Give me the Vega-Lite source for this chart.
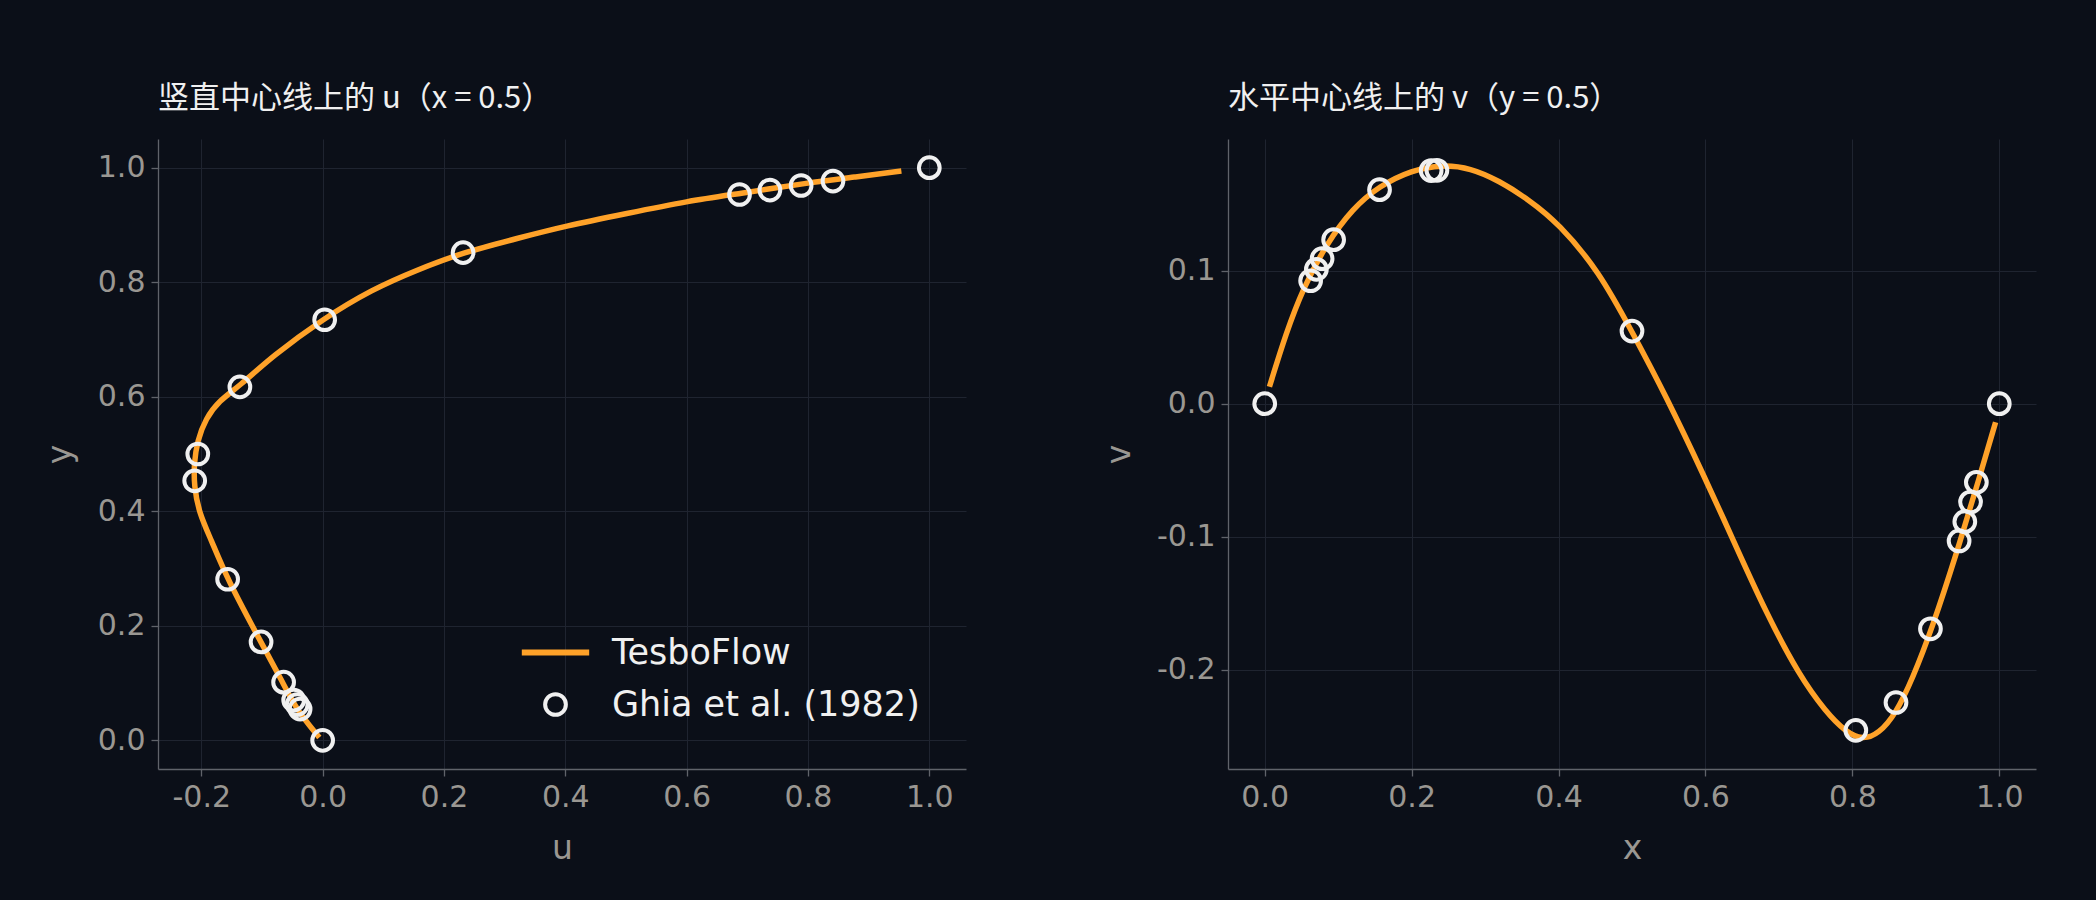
{
  "$schema": "https://vega.github.io/schema/vega-lite/v6.json",
  "background": "#0b0f18",
  "padding": {"left": 44, "top": 83, "right": 60, "bottom": 40},
  "bounds": "flush",
  "spacing": 262,
  "config": {
    "view": {"stroke": null},
    "font": "DejaVu Sans",
    "axis": {
      "domainColor": "#60636a",
      "domainWidth": 1.3,
      "tickColor": "#60636a",
      "tickSize": 7,
      "tickWidth": 1.3,
      "gridColor": "#1f2430",
      "gridWidth": 1,
      "labelFont": "DejaVu Sans",
      "labelFontSize": 30,
      "labelColor": "#9a9792",
      "labelPadding": 6,
      "labelExpr": "replace(datum.label, '−', '-')",
      "titleFont": "DejaVu Sans",
      "titleFontSize": 33,
      "titleFontWeight": "normal",
      "titleColor": "#9a9792",
      "titlePadding": 20
    },
    "title": {
      "font": "Noto Sans CJK SC",
      "fontSize": 31,
      "fontWeight": "normal",
      "color": "#f0f0f0",
      "anchor": "start",
      "frame": "group",
      "offset": 24
    },
    "legend": {
      "labelFont": "DejaVu Sans",
      "labelFontSize": 35,
      "labelColor": "#f0f0f0",
      "labelLimit": 0,
      "symbolSize": 430,
      "labelOffset": 39,
      "rowPadding": 15,
      "padding": 0,
      "orient": "bottom-right",
      "offset": 46
    }
  },
  "datasets": {
    "lineU": [
      {"u": -0.0055, "y": 0.005},
      {"u": -0.044, "y": 0.055},
      {"u": -0.066, "y": 0.102},
      {"u": -0.102, "y": 0.172},
      {"u": -0.157, "y": 0.281},
      {"u": -0.1845, "y": 0.352},
      {"u": -0.204, "y": 0.398},
      {"u": -0.212, "y": 0.445},
      {"u": -0.212, "y": 0.484},
      {"u": -0.2066, "y": 0.523},
      {"u": -0.1927, "y": 0.562},
      {"u": -0.1707, "y": 0.593},
      {"u": -0.1377, "y": 0.618},
      {"u": -0.0826, "y": 0.671},
      {"u": 0.0, "y": 0.7357},
      {"u": 0.0826, "y": 0.788},
      {"u": 0.154, "y": 0.8207},
      {"u": 0.2314, "y": 0.852},
      {"u": 0.325, "y": 0.8776},
      {"u": 0.4, "y": 0.898},
      {"u": 0.5015, "y": 0.92},
      {"u": 0.602, "y": 0.9416},
      {"u": 0.689, "y": 0.955},
      {"u": 0.8, "y": 0.9736},
      {"u": 0.876, "y": 0.9834},
      {"u": 0.954, "y": 0.994}
    ],
    "ghiaU": [
      {"y": 1.0, "u": 1.0, "series": "Ghia et al. (1982)"},
      {"y": 0.9766, "u": 0.84123, "series": "Ghia et al. (1982)"},
      {"y": 0.9688, "u": 0.78871, "series": "Ghia et al. (1982)"},
      {"y": 0.9609, "u": 0.73722, "series": "Ghia et al. (1982)"},
      {"y": 0.9531, "u": 0.68717, "series": "Ghia et al. (1982)"},
      {"y": 0.8516, "u": 0.23151, "series": "Ghia et al. (1982)"},
      {"y": 0.7344, "u": 0.00332, "series": "Ghia et al. (1982)"},
      {"y": 0.6172, "u": -0.13641, "series": "Ghia et al. (1982)"},
      {"y": 0.5, "u": -0.20581, "series": "Ghia et al. (1982)"},
      {"y": 0.4531, "u": -0.2109, "series": "Ghia et al. (1982)"},
      {"y": 0.2813, "u": -0.15662, "series": "Ghia et al. (1982)"},
      {"y": 0.1719, "u": -0.1015, "series": "Ghia et al. (1982)"},
      {"y": 0.1016, "u": -0.06434, "series": "Ghia et al. (1982)"},
      {"y": 0.0703, "u": -0.04775, "series": "Ghia et al. (1982)"},
      {"y": 0.0625, "u": -0.04192, "series": "Ghia et al. (1982)"},
      {"y": 0.0547, "u": -0.03717, "series": "Ghia et al. (1982)"},
      {"y": 0.0, "u": 0.0, "series": "Ghia et al. (1982)"}
    ],
    "lineV": [
      {"x": 0.0064, "v": 0.0127},
      {"x": 0.029, "v": 0.053},
      {"x": 0.052, "v": 0.0865},
      {"x": 0.084, "v": 0.12},
      {"x": 0.12, "v": 0.1468},
      {"x": 0.156, "v": 0.1635},
      {"x": 0.2, "v": 0.1755},
      {"x": 0.242, "v": 0.1795},
      {"x": 0.28, "v": 0.177},
      {"x": 0.319, "v": 0.1675},
      {"x": 0.36, "v": 0.153},
      {"x": 0.4, "v": 0.1355},
      {"x": 0.455, "v": 0.0995},
      {"x": 0.5, "v": 0.054},
      {"x": 0.546, "v": 0.0061},
      {"x": 0.6, "v": -0.0565},
      {"x": 0.637, "v": -0.1015},
      {"x": 0.682, "v": -0.1565},
      {"x": 0.7275, "v": -0.2041},
      {"x": 0.764, "v": -0.2316},
      {"x": 0.791, "v": -0.2466},
      {"x": 0.814, "v": -0.2525},
      {"x": 0.836, "v": -0.2479},
      {"x": 0.859, "v": -0.233},
      {"x": 0.882, "v": -0.2066},
      {"x": 0.909, "v": -0.168},
      {"x": 0.941, "v": -0.114},
      {"x": 0.9724, "v": -0.0565},
      {"x": 0.995, "v": -0.0139}
    ],
    "ghiaV": [
      {"x": 1.0, "v": 0.0},
      {"x": 0.9688, "v": -0.05906},
      {"x": 0.9609, "v": -0.07391},
      {"x": 0.9531, "v": -0.08864},
      {"x": 0.9453, "v": -0.10313},
      {"x": 0.9063, "v": -0.16914},
      {"x": 0.8594, "v": -0.22445},
      {"x": 0.8047, "v": -0.24533},
      {"x": 0.5, "v": 0.05454},
      {"x": 0.2344, "v": 0.17527},
      {"x": 0.2266, "v": 0.17507},
      {"x": 0.1563, "v": 0.16077},
      {"x": 0.0938, "v": 0.12317},
      {"x": 0.0781, "v": 0.1089},
      {"x": 0.0703, "v": 0.10091},
      {"x": 0.0625, "v": 0.09233},
      {"x": 0.0, "v": 0.0}
    ]
  },
  "hconcat": [
    {
      "width": 808,
      "height": 630,
      "title": {"text": "竖直中心线上的 u（x = 0.5）"},
      "layer": [
        {
          "data": {"name": "lineU"},
          "mark": {"type": "line", "color": "#ffa229", "strokeWidth": 5.5, "interpolate": "basis"},
          "encoding": {
            "x": {"field": "u", "type": "quantitative", "title": "u",
                  "scale": {"domain": [-0.2714, 1.0605], "nice": false, "zero": false},
                  "axis": {"values": [-0.2, 0, 0.2, 0.4, 0.6, 0.8, 1.0], "format": ".1f"}},
            "y": {"field": "y", "type": "quantitative", "title": "y",
                  "scale": {"domain": [-0.05, 1.05], "nice": false, "zero": false},
                  "axis": {"values": [0, 0.2, 0.4, 0.6, 0.8, 1.0], "format": ".1f"}},
            "order": {"field": "y", "type": "quantitative"}
          }
        },
        {
          "data": {"name": "ghiaU"},
          "mark": {"type": "point", "filled": false, "size": 430, "opacity": 1},
          "encoding": {
            "x": {"field": "u", "type": "quantitative"},
            "y": {"field": "y", "type": "quantitative"},
            "color": {"field": "series", "type": "nominal",
                      "scale": {"domain": ["TesboFlow", "Ghia et al. (1982)"], "range": ["#ffa229", "#f0f0f0"]},
                      "legend": {"title": null}},
            "shape": {"field": "series", "type": "nominal",
                      "scale": {"domain": ["TesboFlow", "Ghia et al. (1982)"], "range": ["M-3.25,0L3.25,0", "circle"]},
                      "legend": {"title": null}},
            "strokeWidth": {"field": "series", "type": "nominal",
                      "scale": {"type": "ordinal", "domain": ["TesboFlow", "Ghia et al. (1982)"], "range": [6, 4]},
                      "legend": {"title": null}}
          }
        }
      ]
    },
    {
      "width": 808,
      "height": 630,
      "title": {"text": "水平中心线上的 v（y = 0.5）"},
      "layer": [
        {
          "data": {"name": "lineV"},
          "mark": {"type": "line", "color": "#ffa229", "strokeWidth": 5.5, "interpolate": "basis"},
          "encoding": {
            "x": {"field": "x", "type": "quantitative", "title": "x",
                  "scale": {"domain": [-0.05, 1.05], "nice": false, "zero": false},
                  "axis": {"values": [0, 0.2, 0.4, 0.6, 0.8, 1.0], "format": ".1f"}},
            "y": {"field": "v", "type": "quantitative", "title": "v",
                  "scale": {"domain": [-0.2744, 0.1988], "nice": false, "zero": false},
                  "axis": {"values": [-0.2, -0.1, 0, 0.1], "format": ".1f"}},
            "order": {"field": "x", "type": "quantitative"}
          }
        },
        {
          "data": {"name": "ghiaV"},
          "mark": {"type": "point", "filled": false, "size": 430, "opacity": 1, "color": "#f0f0f0", "strokeWidth": 4},
          "encoding": {
            "x": {"field": "x", "type": "quantitative"},
            "y": {"field": "v", "type": "quantitative"}
          }
        }
      ]
    }
  ],
  "resolve": {
    "scale": {"color": "independent", "shape": "independent", "strokeWidth": "independent"},
    "legend": {"color": "independent", "shape": "independent", "strokeWidth": "independent"}
  }
}
